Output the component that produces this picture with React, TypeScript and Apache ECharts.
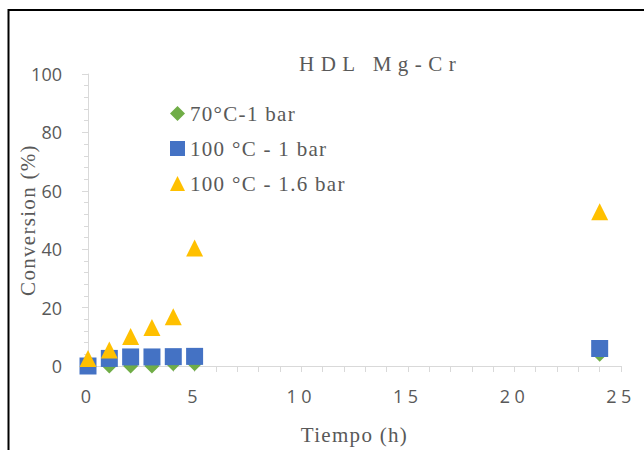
import { useEffect, useRef } from "react";
import * as echarts from "echarts";

// ---- data ----
const times = [0, 1, 2, 3, 4, 5, 24];
const conv70C1bar = [0, 0, 0, 0, 0.8, 0.8, 4];
const conv100C1bar = [0, 2.6, 3.1, 3.1, 3.2, 3.3, 6];
const conv100C16bar = [2.6, 5.5, 10.1, 13.2, 16.9, 40.4, 52.8];
const seriesNames = ["70°C-1 bar", "100 °C - 1 bar", "100 °C - 1.6 bar"];
const xAxisRange = [0, 25, 5]; // min, max, interval
const yAxisRange = [0, 100, 20];
const titleText = "HDL Mg-Cr";
const xName = "Tiempo (h)";
const yName = "Conversion (%)";

const SERIF = "Liberation Serif";
const SANS = "Open Sans";
const TXT = "#595959";
const AX = "#d9d9d9";

export default function App() {
  const ref = useRef<HTMLDivElement>(null);
  useEffect(() => {
    const el = ref.current!;
    const chart = echarts.init(el, null, { renderer: "svg" });
    const pairs = (ys: number[]) => times.map((t, i) => [t, ys[i]]);
    const option: any = {
      animation: false,
      backgroundColor: "#ffffff",
      title: {
        text: titleText,
        left: 299,
        top: 53,
        padding: 0,
        textStyle: { fontFamily: SERIF, fontSize: 21, fontWeight: "normal", color: TXT },
      },
      legend: {
        orient: "vertical",
        left: 170,
        top: 103,
        padding: 0,
        itemGap: 14,
        itemWidth: 15,
        itemHeight: 15,
        itemStyle: { borderWidth: 0, opacity: 1 },
        textStyle: { fontFamily: SERIF, fontSize: 21, color: TXT, lineHeight: 21 },
        data: seriesNames,
      },
      grid: { left: 88, right: 23, top: 74, bottom: 84, containLabel: false, outerBoundsMode: "none" },
      xAxis: {
        type: "value",
        min: xAxisRange[0],
        max: xAxisRange[1],
        interval: xAxisRange[2],
        axisLine: { show: true, lineStyle: { color: AX, width: 1 } },
        axisTick: { show: true, length: 6, lineStyle: { color: AX } },
        minorTick: { show: true, splitNumber: 5, length: 6, lineStyle: { color: AX } },
        splitLine: { show: false },
        axisLabel: { margin: 21, fontFamily: SANS, fontSize: 18, color: TXT },
        name: xName,
        nameLocation: "middle",
        nameGap: 58,
        nameMoveOverlap: false,
        nameTextStyle: { fontFamily: SERIF, fontSize: 21, color: TXT },
      },
      yAxis: {
        type: "value",
        min: yAxisRange[0],
        max: yAxisRange[1],
        interval: yAxisRange[2],
        axisLine: { show: true, lineStyle: { color: AX, width: 1 } },
        axisTick: { show: true, length: 6, lineStyle: { color: AX } },
        minorTick: { show: true, splitNumber: 5, length: 4, lineStyle: { color: AX } },
        splitLine: { show: false },
        axisLabel: { margin: 26, fontFamily: SANS, fontSize: 18, color: TXT },
        name: yName,
        nameLocation: "middle",
        nameRotate: 90,
        nameGap: 50,
        nameMoveOverlap: false,
        nameTextStyle: { fontFamily: SERIF, fontSize: 21, color: TXT },
      },
      series: [
        {
          type: "scatter",
          name: seriesNames[0],
          symbol: "diamond",
          symbolSize: 15,
          itemStyle: { color: "#70AD47", opacity: 1 },
          data: pairs(conv70C1bar),
        },
        {
          type: "scatter",
          name: seriesNames[1],
          symbol: "rect",
          symbolSize: 17,
          itemStyle: { color: "#4472C4", opacity: 1 },
          data: pairs(conv100C1bar),
        },
        {
          type: "scatter",
          name: seriesNames[2],
          symbol: "triangle",
          symbolSize: 17,
          itemStyle: { color: "#FFC000", opacity: 1 },
          data: pairs(conv100C16bar),
        },
      ],
      graphic: [
        {
          type: "rect",
          silent: true,
          z: 100,
          shape: { x: 8.5, y: 10, width: 800, height: 600 },
          style: { fill: "none", stroke: "#000000", lineWidth: 2 },
        },
      ],
    };
    chart.setOption(option);

    const applySpacing = () => {
      el.querySelectorAll("text").forEach((t) => {
        const s = t.textContent || "";
        if (s === titleText) t.style.letterSpacing = "6.5px";
        else if (seriesNames.includes(s) || s === xName || s === yName) t.style.letterSpacing = "1.3px";
        else if (/^\d+$/.test(s) && t.getAttribute("text-anchor") === "middle") t.style.letterSpacing = "4.4px";
      });
    };
    applySpacing();
    chart.on("finished", applySpacing);

    return () => {
      chart.dispose();
    };
  }, []);
  return (
    <div
      ref={ref}
      style={{ position: "fixed", left: 0, top: 0, width: 644, height: 450 }}
    />
  );
}
